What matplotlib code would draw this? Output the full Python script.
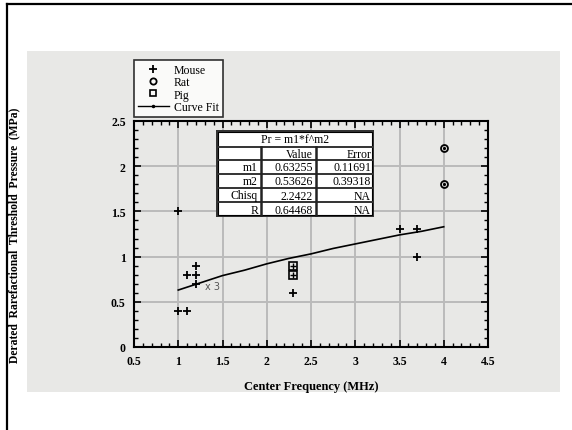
import numpy as np
import matplotlib
matplotlib.use('Agg')
import matplotlib.pyplot as plt
from matplotlib.patches import Rectangle
from matplotlib.lines import Line2D
from matplotlib.ticker import MultipleLocator

# data
mouse_f = [1.0, 1.0, 1.1, 1.1, 1.2, 1.2, 1.2, 2.3, 3.5, 3.7, 3.7]
mouse_p = [1.5, 0.4, 0.4, 0.8, 0.8, 0.9, 0.7, 0.6, 1.3, 1.3, 1.0]
rat_f = [4.0, 4.0]
rat_p = [2.2, 1.8]
pig_f = [2.3, 2.3]
pig_p = [0.9, 0.8]
fit_f = [1.0, 1.25, 1.5, 1.75, 2.0, 2.25, 2.5, 2.75, 3.0, 3.25, 3.5, 3.75, 4.0]
fit_p = [0.63, 0.71, 0.79, 0.85, 0.92, 0.98, 1.03, 1.09, 1.14, 1.19, 1.24, 1.28, 1.33]

table_title = 'Pr = m1*f^m2'
table_head = ['', 'Value', 'Error']
table_rows = [['m1', '0.63255', '0.11691'],
              ['m2', '0.53626', '0.39318'],
              ['Chisq', '2.2422', 'NA'],
              ['R', '0.64468', 'NA']]

W, H = 572, 431
plt.rcParams['font.family'] = ['Liberation Serif', 'DejaVu Serif']
fig = plt.figure(figsize=(W / 100, H / 100), dpi=100)
fig.patch.set_facecolor('white')

def fx(px):
    return px / W

def fy(py):
    return 1 - py / H

# outer frame (top and left) and grey panel
fig.add_artist(Line2D([fx(7), 1], [fy(5), fy(5)], color='black', lw=1.6))
fig.add_artist(Line2D([fx(7), fx(7)], [fy(5), 0], color='black', lw=1.6))
fig.add_artist(Rectangle((fx(27), fy(393)), fx(560) - fx(27), fy(52) - fy(393),
                         facecolor='#e8e8e6', edgecolor='none', zorder=0))

ax = fig.add_axes([fx(134), fy(348), fx(488) - fx(134), fy(122) - fy(348)])
ax.set_facecolor('#e8e8e6')
ax.set_xlim(0.5, 4.5)
ax.set_ylim(0, 2.5)
ax.xaxis.set_minor_locator(MultipleLocator(0.1))
ax.yaxis.set_minor_locator(MultipleLocator(0.1))
ax.set_xticks([0.5, 1, 1.5, 2, 2.5, 3, 3.5, 4, 4.5])
ax.set_xticklabels(['0.5', '1', '1.5', '2', '2.5', '3', '3.5', '4', '4.5'])
ax.set_yticks([0, 0.5, 1, 1.5, 2, 2.5])
ax.set_yticklabels(['0', '0.5', '1', '1.5', '2', '2.5'])
ax.tick_params(which='both', direction='in', top=True, right=True, color='black')
ax.tick_params(which='major', length=5, width=1.2, labelsize=8.5, pad=6)
ax.tick_params(which='minor', length=3, width=1.0)
for lab in ax.get_xticklabels() + ax.get_yticklabels():
    lab.set_fontweight('bold')
for s in ax.spines.values():
    s.set_linewidth(1.5)
ax.grid(True, which='major', color='#bababa', lw=1.4)
ax.set_axisbelow(True)

ax.set_xlabel('Center Frequency (MHz)', fontsize=9, fontweight='bold')
ax.xaxis.set_label_coords(0.5, -0.145)
ax.set_ylabel('Derated  Rarefactional  Threshold  Pressure  (MPa)', fontsize=8.4,
              fontweight='bold')
ax.yaxis.set_label_coords(-0.322, 0.5)

# data marks
ax.plot(fit_f, fit_p, color='black', lw=1.2, zorder=3)
ax.plot(mouse_f, mouse_p, '+', color='black', ms=5.5, mew=1.3, zorder=4)
ax.plot(rat_f, rat_p, 'o', mfc='none', mec='black', ms=5, mew=1.3, zorder=4)
ax.plot(rat_f, rat_p, '.', color='black', ms=2.5, zorder=5)
ax.plot(pig_f, pig_p, 's', mfc='none', mec='black', ms=5.5, mew=1.2, zorder=4)
ax.plot(pig_f, pig_p, '+', color='black', ms=5, mew=1.0, zorder=5)
ax.text(1.3, 0.67, 'x 3', fontsize=7, color='#555555', family='DejaVu Sans',
        ha='left', va='center')

# legend
handles = [Line2D([], [], ls='none', marker='+', color='black', ms=5.5, mew=1.3),
           Line2D([], [], ls='none', marker='o', mfc='none', mec='black', ms=4.5, mew=1.3),
           Line2D([], [], ls='none', marker='s', mfc='none', mec='black', ms=5, mew=1.2),
           Line2D([], [], color='black', lw=1.0, marker='.', ms=3)]
leg = fig.legend(handles, ['Mouse', 'Rat', 'Pig', 'Curve Fit'], loc='upper left',
                 bbox_to_anchor=(fx(134), fy(61)), borderaxespad=0, fontsize=8.5,
                 frameon=True, fancybox=False, handlelength=2.6, handletextpad=0.4,
                 labelspacing=0.02, borderpad=0.35, markerscale=1)
leg.get_frame().set_edgecolor('black')
leg.get_frame().set_linewidth(1.2)
leg.get_frame().set_facecolor('white')

# fit table
tx0, tx1, ty0, ty1 = 216, 374, 131, 218
tab = fig.add_axes([fx(tx0), fy(ty1), fx(tx1) - fx(tx0), fy(ty0) - fy(ty1)])
tab.set_xlim(tx0, tx1)
tab.set_ylim(ty1, ty0)
tab.axis('off')
tab.add_patch(Rectangle((tx0, ty0), tx1 - tx0, ty1 - ty0, facecolor='white',
                        edgecolor='#333333', lw=3.5))
tab.add_patch(Rectangle((tx0 + 2, ty0 + 2), tx1 - tx0 - 4, ty1 - ty0 - 4,
                        facecolor='none', edgecolor='black', lw=0.8))
col_x = [tx0, 261, 316, tx1]
row_y = [ty0, 148, 161, 175, 189, 203, ty1]
for y in row_y[1:-1]:
    tab.plot([tx0, tx1], [y, y], color='#333333', lw=1.4)
for x in col_x[1:-1]:
    tab.plot([x, x], [row_y[1], ty1], color='#222222', lw=1.8)
tab.text((tx0 + tx1) / 2, (row_y[0] + row_y[1]) / 2 + 0.5, table_title, ha='center',
         va='center', fontsize=8.5)
for r, cells in enumerate([table_head] + table_rows):
    yc = (row_y[r + 1] + row_y[r + 2]) / 2 + 0.5
    for c, txt in enumerate(cells):
        tab.text(col_x[c + 1] - 3, yc, txt, ha='right', va='center', fontsize=8.5)

fig.savefig('out.png', dpi=100)
